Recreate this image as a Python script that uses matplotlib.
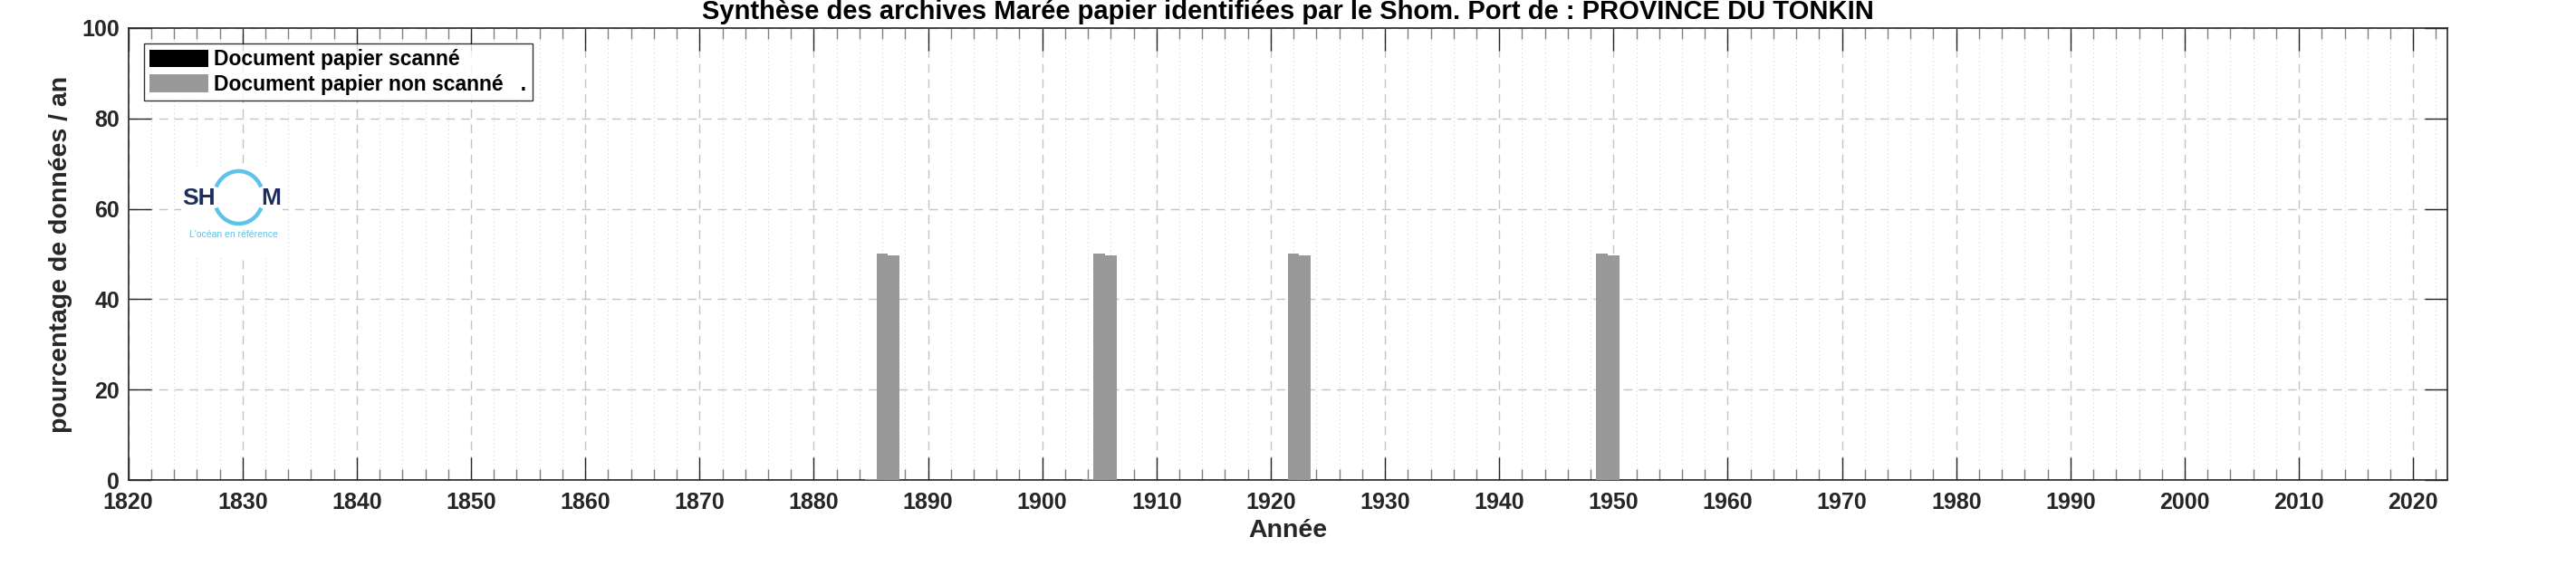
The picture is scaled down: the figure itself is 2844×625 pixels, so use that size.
import numpy as np
import matplotlib
matplotlib.use("Agg")
import matplotlib.pyplot as plt
from matplotlib.patches import Patch, Arc, Rectangle
from matplotlib.ticker import MultipleLocator

plt.rcParams['font.family'] = ['Liberation Sans', 'DejaVu Sans']

# données
annees = [1885, 1886, 1887, 1904, 1905, 1906, 1922, 1923, 1949, 1950]
non_scanne = [0.3, 50.1, 49.6, 0.3, 50.1, 49.6, 50.1, 49.6, 50.1, 49.6]
annees_scanne = []
scanne = []

titre = "Synthèse des archives Marée papier identifiées par le Shom. Port de : PROVINCE DU TONKIN"
legende = ["Document papier scanné", "Document papier non scanné   ."]

W, H = 2844, 625
fig = plt.figure(figsize=(W / 100, H / 100), dpi=100)
ax = fig.add_axes([0.0498, 0.152, 0.9003, 0.7984])

gris = '#999999'
texte = '#262626'

ax.bar(annees, non_scanne, width=1.0, color=gris, edgecolor='none', zorder=3)
ax.bar(annees_scanne, scanne, width=1.0, color='black', edgecolor='none', zorder=3)

ax.set_xlim(1820, 2023)
ax.set_ylim(0, 100)
ax.xaxis.set_major_locator(MultipleLocator(10))
ax.xaxis.set_minor_locator(MultipleLocator(2))
ax.yaxis.set_major_locator(MultipleLocator(20))

ax.grid(True, which='major', axis='both', color='#c4c4c4', linestyle=(0, (7, 5)), linewidth=1.0, zorder=0)
ax.grid(True, which='minor', axis='x', color='#d6d6d6', linestyle=(0, (1, 3)), linewidth=0.8, zorder=0)

ax.tick_params(which='major', direction='in', length=18, width=1.0, color=texte,
               top=True, right=True, labelsize=18, labelcolor=texte)
ax.tick_params(axis='x', which='major', pad=9.5)
ax.tick_params(axis='y', which='major', pad=7)
ax.tick_params(which='minor', direction='in', length=8.6, width=1.0, color='#808080', top=True)
ax.tick_params(axis='y', which='minor', left=False, right=False)
for lab in ax.get_xticklabels() + ax.get_yticklabels():
    lab.set_fontweight('bold')
for sp in ax.spines.values():
    sp.set_linewidth(1.2)
    sp.set_color(texte)

ax.set_xlabel("Année", fontsize=20.5, fontweight='bold', color=texte, labelpad=4)
ax.set_ylabel("pourcentage de données / an", fontsize=20.5, fontweight='bold', color=texte, labelpad=7)
ax.set_title(titre, fontsize=21, fontweight='bold', color='black', pad=7)

handles = [Patch(facecolor='black', edgecolor='none'), Patch(facecolor=gris, edgecolor='none')]
leg = ax.legend(handles, legende, loc='upper left', bbox_to_anchor=(0.0068, 0.966),
                prop={'size': 16.5, 'weight': 'bold'}, frameon=True, fancybox=False,
                edgecolor='black', handlelength=2.8, handleheight=0.95, handletextpad=0.28,
                borderpad=0.28, labelspacing=0.2, borderaxespad=0)
leg.get_frame().set_linewidth(1.0)

# logo Shom (approximation)
lx0, lx1, ly0, ly1 = 200, 312, 186, 282
logo = fig.add_axes([lx0 / W, 1 - ly1 / H, (lx1 - lx0) / W, (ly1 - ly0) / H], zorder=5)
logo.set_xlim(lx0, lx1)
logo.set_ylim(ly1, ly0)
logo.set_facecolor('white')
logo.axis('off')
logo.add_patch(Rectangle((lx0, ly0), lx1 - lx0, ly1 - ly0, facecolor='white', edgecolor='none'))
bleu = '#5bc4e8'
marine = '#1c2e5e'
for t1, t2 in [(25, 155), (205, 335)]:
    logo.add_patch(Arc((263.5, 218), 54, 58, theta1=t1, theta2=t2, color=bleu, linewidth=3.2))
logo.text(238, 218.5, "SH", fontsize=19, fontweight='bold', color=marine, ha='right', va='center')
logo.text(288, 218.5, "M", fontsize=19, fontweight='bold', color=marine, ha='left', va='center')
logo.text(257.5, 259, "L'océan en référence", fontsize=7.5, color=bleu, ha='center', va='center')

fig.savefig("out.png", dpi=100)
